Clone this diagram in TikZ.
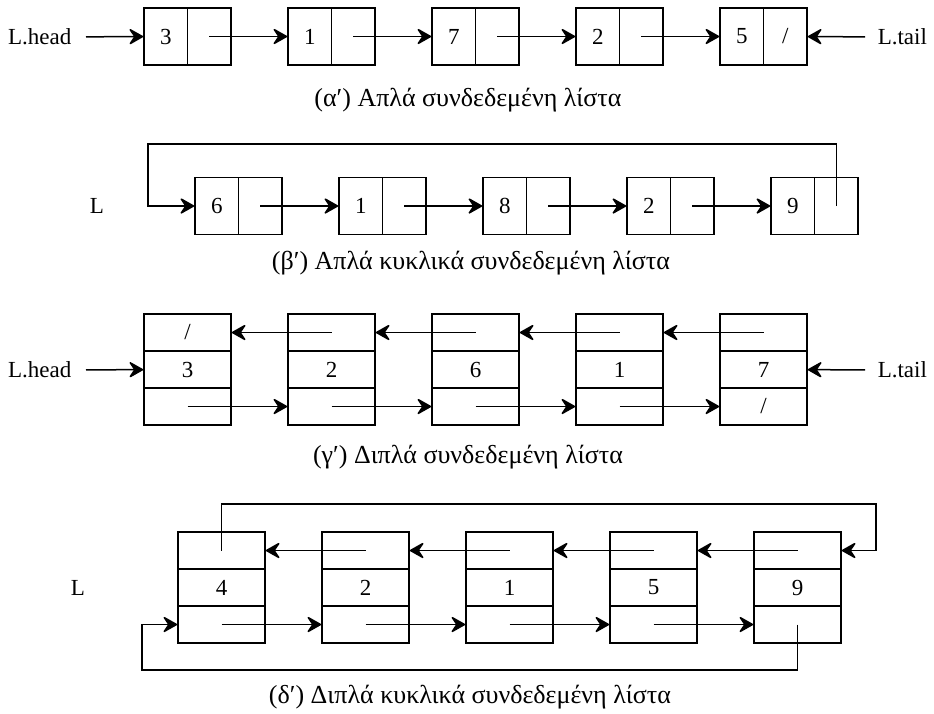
\documentclass[tikz,border=0pt]{standalone}
\usepackage{fontspec}
\setmainfont{Liberation Serif}
\usetikzlibrary{arrows.meta}
\begin{document}
\begin{tikzpicture}[x=1pt,y=-1pt,
  line width=1.5pt,
  lab/.style={font=\fontsize{23}{26}\selectfont, inner sep=0pt},
  hcell/.style={draw, lab, minimum width=43.5pt, minimum height=57pt},
  vcell/.style={draw, lab, minimum width=87pt, minimum height=37pt},
  captext/.style={font=\fontsize{26}{30}\selectfont, inner sep=0pt},
  link/.style={-{Stealth[length=16pt,width=18pt,inset=6pt,round]}}]
\useasboundingbox (0,0) rectangle (934,713);

% (a) singly linked list
\foreach \v [count=\i] in {3,1,7,2,5}{
  \node[hcell] (av\i) at (21.75+144*\i,36.5) {\v};
}
\foreach \i in {1,...,4}{
  \node[hcell] (ap\i) at (65.25+144*\i,36.5) {};
}
\node[hcell] (ap5) at (785.25,36.5) {/};
\foreach \i [evaluate=\i as \j using int(\i+1)] in {1,...,4}{
  \draw[link] (ap\i.center) -- (av\j.west);
}
\node[lab, anchor=east] (ahead) at (72,37) {L.head};
\node[lab, anchor=west] (atail) at (877,37) {L.tail};
\draw[link, shorten <=14pt] (ahead) -- (av1);
\draw[link, shorten <=12pt] (atail) -- (ap5);
\node[captext] (capa) at (468,100) {(α′) Απλά συνδεδεμένη λίστα};

% (b) circular singly linked list
\foreach \v [count=\i] in {6,1,8,2,9}{
  \node[hcell] (bv\i) at (72.75+144*\i,206) {\v};
  \node[hcell] (bp\i) at (116.25+144*\i,206) {};
}
\foreach \i [evaluate=\i as \j using int(\i+1)] in {1,...,4}{
  \draw[link] (bp\i.center) -- (bv\j.west);
}
\node[lab] (bl) at (97,206) {L};
\coordinate (btop) at (148,144);
\draw[link] (bp5.center) |- (btop) |- (bv1.west);
\node[captext] (capb) at (471,263) {(β′) Απλά κυκλικά συνδεδεμένη λίστα};

% (c) doubly linked list
\foreach \v [count=\i] in {3,2,6,1,7}{
  \node[vcell] (cm\i) at (43.5+144*\i,369.5) {\v};
  \node[vcell] (cb\i) at (43.5+144*\i,406.5) {};
}
\node[vcell] (ct1) at (187.5,332.5) {/};
\foreach \i in {2,...,5}{
  \node[vcell] (ct\i) at (43.5+144*\i,332.5) {};
}
\node[vcell] at (cb5) {/};
\foreach \i [evaluate=\i as \j using int(\i+1)] in {1,...,4}{
  \draw[link] (ct\j.center) -- (ct\i.east);
  \draw[link] (cb\i.center) -- (cb\j.west);
}
\node[lab, anchor=east] (chead) at (72,370) {L.head};
\node[lab, anchor=west] (ctail) at (877,370) {L.tail};
\draw[link, shorten <=14pt] (chead) -- (cm1);
\draw[link, shorten <=12pt] (ctail) -- (cm5);
\node[captext] (capc) at (468,457) {(γ′) Διπλά συνδεδεμένη λίστα};

% (d) circular doubly linked list
\foreach \v [count=\i] in {4,2,1,5,9}{
  \node[vcell] (dt\i) at (77.5+144*\i,550.5) {};
  \node[vcell] (dm\i) at (77.5+144*\i,587.5) {\v};
  \node[vcell] (db\i) at (77.5+144*\i,624.5) {};
}
\foreach \i [evaluate=\i as \j using int(\i+1)] in {1,...,4}{
  \draw[link] (dt\j.center) -- (dt\i.east);
  \draw[link] (db\i.center) -- (db\j.west);
}
\node[lab] (dl) at (78,588) {L};
\coordinate (dtop) at (876,504);
\coordinate (dbot) at (142,670);
\draw[link] (dt1.center) |- (dtop) |- (dt5.east);
\draw[link] (db5.center) |- (dbot) |- (db1.west);
\node[captext] (capd) at (470,697) {(δ′) Διπλά κυκλικά συνδεδεμένη λίστα};
\end{tikzpicture}
\end{document}
